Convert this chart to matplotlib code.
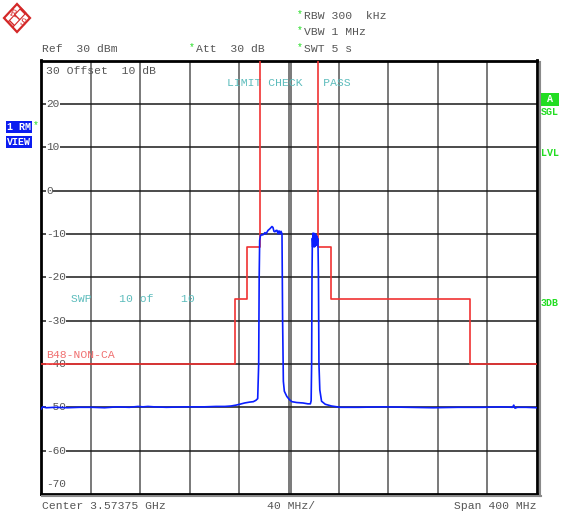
import matplotlib.pyplot as plt
from matplotlib.patches import Polygon, Rectangle
from matplotlib.lines import Line2D

W, H = 563, 519

# RMS trace, frequency in MHz, level in dBm
trace_f = [3373.75, 3375, 3378, 3385, 3395, 3405, 3415, 3425,
           3435, 3445, 3452, 3456, 3460, 3465, 3475, 3490,
           3505, 3515, 3522, 3527, 3531, 3534, 3538, 3542,
           3545, 3547, 3548.5, 3549.3, 3549.7, 3550.1, 3550.8, 3552.8,
           3554.4, 3555.2, 3556.8, 3558.4, 3560.0, 3560.8, 3561.6, 3562.4,
           3563.3, 3564.1, 3564.9, 3565.7, 3566.5, 3567.3, 3568.1, 3568.6,
           3569.2, 3570.0, 3572, 3574, 3576, 3580, 3585, 3589,
           3591, 3591.6, 3592.0, 3592.3, 3592.6, 3592.9, 3593.2, 3593.5,
           3593.8, 3594.1, 3594.4, 3594.7, 3595.0, 3595.3, 3595.6, 3595.9,
           3596.2, 3596.5, 3596.8, 3597.1, 3597.5, 3597.9, 3598.6, 3600,
           3603, 3608, 3615, 3630, 3650, 3670, 3690, 3710,
           3730, 3745, 3754, 3755, 3756, 3758, 3765, 3773.75]
trace_db = [-50.4, -49.9, -50.1, -50.0, -50.1, -50.0, -50.0, -50.1,
            -49.9, -50.0, -49.8, -49.9, -49.8, -49.9, -50.0, -49.9,
            -49.9, -49.8, -49.8, -49.7, -49.5, -49.3, -49.0, -48.8,
            -48.7, -48.4, -48.0, -40.0, -20.0, -11.5, -10.3, -10.2,
            -9.7, -10.0, -9.2, -8.8, -8.3, -8.5, -9.4, -9.5,
            -9.2, -9.2, -10.0, -9.3, -10.0, -9.4, -10.0, -30.0,
            -44.0, -46.3, -47.5, -48.2, -48.7, -48.9, -49.0, -49.2,
            -49.2, -48.5, -40.0, -20.0, -11.0, -13.0, -9.8, -12.8,
            -10.0, -13.0, -9.9, -12.9, -10.1, -12.7, -10.3, -12.5,
            -10.5, -12.0, -11.0, -11.5, -20.0, -40.0, -46.0, -48.6,
            -49.3, -49.7, -50.0, -50.0, -49.9, -50.0, -50.1, -50.0,
            -50.0, -49.9, -50.0, -49.5, -50.2, -50.0, -50.0, -50.1]

# limit line B48-NON-CA
limit_f = [3373.75, 3530, 3530, 3540, 3540, 3550, 3550,
           3597.5, 3597.5, 3607.5, 3607.5, 3720, 3720, 3773.75]
limit_db = [-40, -40, -25, -25, -13, -13, 60,
            60, -13, -13, -25, -25, -40, -40]

y_grid = [20, 10, 0, -10, -20, -30, -40, -50, -60]
y_labels = ['20', '10', '0', '-10', '-20', '-30', '-40', '-50', '-60']

f_start, f_stop = 3373.75, 3773.75
x_grid = [3413.75, 3453.75, 3493.75, 3533.75, 3573.75,
          3613.75, 3653.75, 3693.75, 3733.75]

MONO = 'Liberation Mono'
GRAY = '#555555'
TEAL = '#5cbcbc'
GREEN = '#22dd22'


def P(x, y):
    return (x / W, 1 - y / H)


fig = plt.figure(figsize=(W / 100, H / 100), dpi=100)
fig.patch.set_facecolor('white')

ax = fig.add_axes([41 / W, (H - 494) / H, 496 / W, 433.5 / H])
ax.set_xlim(f_start, f_stop)
ax.set_ylim(-70, 30)
ax.set_xticks([])
ax.set_yticks([])
for s in ax.spines.values():
    s.set_linewidth(2)
    s.set_color('black')

for xv in x_grid:
    ax.axvline(xv, color='#6e6e6e', lw=1.3, zorder=1)
ax.axvline(3575.75, color='#6e6e6e', lw=1.3, zorder=1)
for yv in y_grid:
    ax.axhline(yv, color='#1a1a1a', lw=1.1, zorder=1)

# level labels sit inside the grid
ytr = ax.get_yaxis_transform()
for yv, lab in zip(y_grid, y_labels):
    ax.text(5 / 496, yv, lab, transform=ytr, ha='left', va='center',
            fontsize=8, family=MONO, color=GRAY, zorder=3,
            bbox=dict(fc='white', ec='none', pad=0.3))
ax.text(5 / 496, -67.6, '-70', transform=ytr, ha='left', va='center',
        fontsize=8, family=MONO, color=GRAY, zorder=3)

ax.plot(limit_f, limit_db, color='#f03232', lw=1.2, zorder=4)
ax.plot(trace_f, trace_db, color='#0a1eff', lw=1.2, zorder=5)

# texts inside the diagram
ax.text(5 / 496, 1 - 10 / 433.5, '30 Offset  10 dB', transform=ax.transAxes,
        ha='left', va='center', fontsize=8.2, family=MONO, color=GRAY)
ax.text((227 - 41) / 496, 1 - 23 / 433.5, 'LIMIT CHECK   PASS',
        transform=ax.transAxes, ha='left', va='center', fontsize=8.2,
        family=MONO, color=TEAL)
ax.text((71 - 41) / 496, 1 - 238 / 433.5, 'SWP    10 of    10',
        transform=ax.transAxes, ha='left', va='center', fontsize=8.2,
        family=MONO, color=TEAL)
ax.text(5 / 496, 1 - 295 / 433.5, 'B48-NON-CA', transform=ax.transAxes,
        ha='left', va='center', fontsize=8.2, family=MONO, color='#f07070',
        zorder=6)

# frame shadow
fig.add_artist(Line2D([540 / W, 540 / W], [P(0, 62)[1], P(0, 496)[1]],
                      color='#8a8a8a', lw=1.5, transform=fig.transFigure))
fig.add_artist(Line2D([42 / W, 541 / W], [P(0, 496)[1], P(0, 496)[1]],
                      color='#8a8a8a', lw=1.5, transform=fig.transFigure))

# header
def ftxt(x, y, s, color=GRAY, size=8.2, weight='normal', ha='left'):
    fig.text(*P(x, y), s, ha=ha, va='center', fontsize=size, family=MONO,
             color=color, fontweight=weight)


ftxt(41.5, 49, 'Ref  30 dBm')
ftxt(196, 49, 'Att  30 dB')
ftxt(304, 16, 'RBW 300  kHz')
ftxt(304, 32, 'VBW 1 MHz')
ftxt(304, 49, 'SWT 5 s')
for sx, sy in [(189, 47), (297, 14), (297, 30), (297, 47)]:
    ftxt(sx, sy, '*', color=GREEN, size=7)

ftxt(42.5, 506, 'Center 3.57375 GHz')
ftxt(267, 506, '40 MHz/')
ftxt(454, 506, 'Span 400 MHz')

# side annotations
for y0, lab in [(121, '1 RM'), (136, 'VIEW')]:
    fig.add_artist(Rectangle(P(6, y0 + 12), 26 / W, 12 / H, fc='#0b1cf0',
                             ec='none', transform=fig.transFigure))
    ftxt(7, y0 + 6, lab, color='white', size=7.2, weight='bold')
ftxt(33, 125, '*', color=GREEN, size=7)

fig.add_artist(Rectangle(P(541, 106), 18 / W, 13 / H, fc=GREEN, ec='none',
                         transform=fig.transFigure))
ftxt(550, 99.5, 'A', color='white', size=7.2, weight='bold', ha='center')
ftxt(541, 112, 'SGL', color=GREEN, size=7.2, weight='bold')
ftxt(541, 153, 'LVL', color=GREEN, size=7.2, weight='bold')
ftxt(541, 303, '3DB', color=GREEN, size=7.2, weight='bold')

# R&S logo
LOGO_RED = '#d42828'
outer = [P(17, 4), P(30, 18), P(17, 32), P(4, 18)]
fig.add_artist(Polygon(outer, closed=True, fc='white', ec=LOGO_RED, lw=1.6,
                       transform=fig.transFigure))
band = [P(21, 8), P(26, 13), P(13, 27), P(8, 22)]
fig.add_artist(Polygon(band, closed=True, fc='none', ec=LOGO_RED, lw=0.8,
                       hatch='\\\\\\', transform=fig.transFigure))
fig.text(*P(12.5, 14), 'R', color=LOGO_RED, fontsize=6.5, ha='center',
         va='center', family='DejaVu Serif', rotation=-20)
fig.text(*P(21.5, 23), 'S', color=LOGO_RED, fontsize=6.5, ha='center',
         va='center', family='DejaVu Serif', rotation=-20)

fig.savefig('out.png', dpi=100, facecolor='white')
